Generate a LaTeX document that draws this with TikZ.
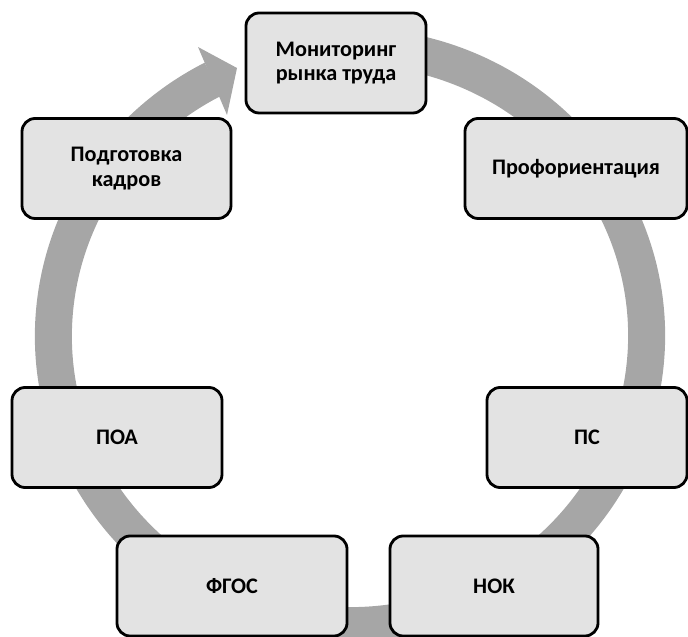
\documentclass[tikz,border=0pt]{standalone}
\usepackage{fontspec}
\setmainfont{Carlito}
\usetikzlibrary{calc}
\definecolor{ringgray}{HTML}{A6A6A6}
\definecolor{boxgray}{HTML}{E3E3E3}
\tikzset{stage/.style={draw,line width=2pt,rounded corners=0.33cm,fill=boxgray,align=center,font=\bfseries\fontsize{15.8}{17.5}\selectfont,minimum height=2.5cm}}

\begin{document}
\begin{tikzpicture}[x=0.025cm,y=0.025cm]
\useasboundingbox (0,0) rectangle (688,636);
\coordinate (O) at (350,300);
\coordinate (T) at (237,568); \coordinate (B1) at (198,589); \coordinate (B2) at (227,521);
% cycle ring with arrow head
\draw[ringgray,line width=0.925cm] ($(O)+(80:7.4125cm and 7.2375cm)$) arc[start angle=80,end angle=-242.5,x radius=7.4125cm,y radius=7.2375cm];
\fill[ringgray] (B1)--(T)--(B2)--cycle;
% stages
\node[stage,minimum width=4.5cm] (mon) at (336,573) {Мониторинг\\рынка труда};
\node[stage,minimum width=5.225cm] (train) at (126.5,467.5) {Подготовка\\кадров};
\node[stage,minimum width=5.55cm] (prof) at (576,467.5) {Профориентация};
\node[stage,minimum width=5.25cm] (poa) at (117,198.5) {ПОА};
\node[stage,minimum width=5cm] (ps) at (587,198.5) {ПС};
\node[stage,minimum width=5.75cm] (fgos) at (232,50) {ФГОС};
\node[stage,minimum width=5.2cm] (nok) at (494,50) {НОК};
\end{tikzpicture}
\end{document}
